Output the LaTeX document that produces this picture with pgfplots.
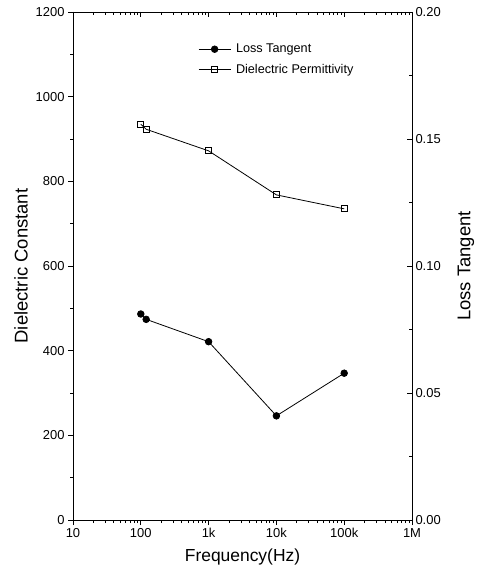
\documentclass[border=0pt]{standalone}
\usepackage{fontspec}
\setmainfont{Liberation Sans}
\usepackage{pgfplots}
\pgfplotsset{compat=1.18}
\usetikzlibrary{calc}

% permittivity (left axis)
\pgfplotstableread{
f     eps
100   935
120   923
1000  872
10000 768
100000 735
}\permtab
% loss tangent (right axis)
\pgfplotstableread{
f     tand
100   0.0811
120   0.0790
1000  0.0702
10000 0.0410
100000 0.0578
}\losstab

\begin{document}
\begin{tikzpicture}

\begin{axis}[
  width=339bp, height=508bp, scale only axis,
  xmode=log, xmin=10, xmax=1e6,
  major tick length=5bp, minor tick length=3bp,
  tick style={black, line width=0.8pt},
  axis line style={-, line width=0.9pt},
  /pgf/number format/assume math mode=true,
  /pgf/number format/1000 sep={},
  tick label style={font=\fontsize{13}{15}\selectfont},
  name=a,
  axis x line*=bottom, axis y line*=left,
  tick align=outside,
  ymin=0, ymax=1200,
  ytick={0,200,...,1200},
  minor y tick num=1,
  xtick={10,100,1000,10000,100000,1000000},
  xticklabels={10,100,1k,10k,100k,1M},
  xlabel={Frequency(Hz)},
  ylabel={Dielectric Constant},
  xlabel style={font=\fontsize{17.5}{19}\selectfont, yshift=-4bp},
  ylabel style={font=\fontsize{18.5}{20}\selectfont, yshift=1bp},
]
\addplot[black, line width=0.8pt, mark=square, mark size=3pt,
  mark options={fill=white, line width=0.8pt}] table[x=f, y=eps] {\permtab};
\end{axis}

\begin{axis}[
  width=339bp, height=508bp, scale only axis,
  xmode=log, xmin=10, xmax=1e6,
  major tick length=5bp, minor tick length=3bp,
  tick style={black, line width=0.8pt},
  axis line style={-, line width=0.9pt},
  /pgf/number format/assume math mode=true,
  tick label style={font=\fontsize{13}{15}\selectfont},
  axis x line*=top, axis y line*=right,
  tick align=inside,
  xtick={10,100,1000,10000,100000,1000000},
  xticklabels={},
  ymin=0, ymax=0.2,
  ytick={0,0.05,...,0.2},
  minor y tick num=1,
  yticklabel style={/pgf/number format/.cd, fixed, fixed zerofill, precision=2},
  ylabel={Loss Tangent},
  ylabel style={font=\fontsize{18.5}{20}\selectfont, yshift=-10bp},
  legend style={draw=none, fill=none, at={(0.36,0.945)}, anchor=north west,
    font=\fontsize{12.7}{14}\selectfont, row sep=6bp, column sep=3bp},
  legend cell align=left,
  legend image code/.code={
    \draw[mark repeat=2, mark phase=2, #1] plot coordinates {(0bp,0bp) (16bp,0bp) (32bp,0bp)};
  },
]
\addplot[black, line width=0.8pt, mark=*, mark size=3.3pt] table[x=f, y=tand] {\losstab};
\addlegendentry{Loss Tangent}
\addlegendimage{black, line width=0.8pt, mark=square, mark size=3pt, mark options={fill=white}}
\addlegendentry{Dielectric Permittivity}
\end{axis}

\path ($(a.south west)+(-73bp,-57bp)$) rectangle ($(a.south west)+(402bp,520bp)$);
\end{tikzpicture}
\end{document}
